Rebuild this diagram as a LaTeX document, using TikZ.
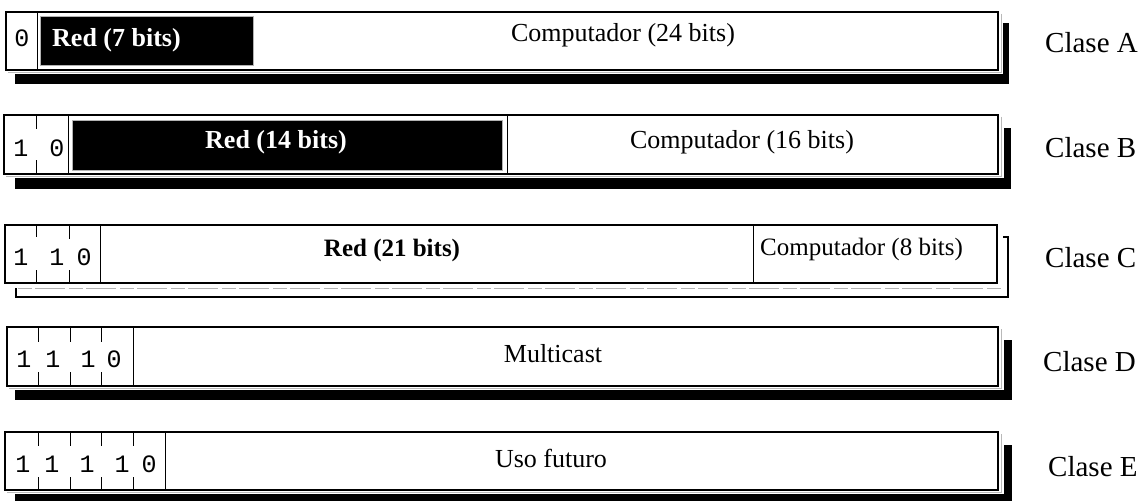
\documentclass[tikz,border=0pt]{standalone}
\usepackage{fontspec}
\setmainfont{Liberation Serif}
\newfontfamily\bitfont{Liberation Mono}
\begin{document}
\begin{tikzpicture}[x=1pt,y=-1pt,
  shadowbar/.style={fill=black},
  shadowline/.style={draw=black,line width=1.5pt},
  halo/.style={fill=white},
  edge/.style={draw=gray!55,line width=0.8pt},
  frame/.style={draw=black,line width=2.5pt},
  divider/.style={draw=black,line width=1pt},
  bittick/.style={draw=black,line width=1pt},
  darkfield/.style={fill=black,draw=gray!60,line width=0.8pt},
  lbl/.style={anchor=base,inner sep=0pt,font=\fontsize{26}{30}\selectfont},
  lblw/.style={anchor=base west,inner sep=0pt,font=\fontsize{26}{30}\selectfont},
  darklbl/.style={anchor=base,inner sep=0pt,text=white,font=\fontsize{26}{30}\selectfont\bfseries},
  bit/.style={anchor=base,inner sep=0pt,font=\fontsize{25}{28}\selectfont\bitfont},
  cls/.style={anchor=base west,inner sep=0pt,font=\fontsize{29}{34}\selectfont}]
\useasboundingbox (0,0) rectangle (1147,500);

% ---------- Clase A ----------
\fill[shadowbar] (15,23) rectangle (1009,84);
\fill[halo] (2,8) rectangle (1003,74);
\draw[edge] (1001,14) -- (1001,72.5) -- (8,72.5);
\draw[frame] (6,12) rectangle (998,70);
\draw[divider] (37,12) -- (37,70);
\draw[darkfield] (40,16) rectangle (253,65);
\node[bit] (a0) at (22,47) {0};
\node[darklbl,anchor=base west] (ared) at (52,47) {Red (7 bits)};
\node[lbl] (ahost) at (623,42) {Computador (24 bits)};
\node[cls] (acls) at (1045,53) {Clase A};

% ---------- Clase B ----------
\fill[shadowbar] (15,128) rectangle (1011,189);
\fill[halo] (0,111) rectangle (1004,178);
\draw[edge] (1001,117) -- (1001,176.5) -- (6,176.5);
\draw[frame] (4,115) rectangle (998,174);
\draw[bittick] (36,115) -- (36,129) (36,160) -- (36,174);
\draw[divider] (68,115) -- (68,174);
\draw[divider] (507,115) -- (507,174);
\draw[darkfield] (72,120) rectangle (502,170);
\node[bit] (b1) at (21,156) {1};
\node[bit] (b2) at (57,156) {0};
\node[darklbl] (bred) at (276,148) {Red (14 bits)};
\node[lbl] (bhost) at (742,148) {Computador (16 bits)};
\node[cls] (bcls) at (1045,157) {Clase B};

% ---------- Clase C ----------
\draw[shadowline] (16,237) rectangle (1008,297);
\fill[halo] (2,221) rectangle (1003,288);
\draw[gray!60,line width=0.8pt,dash pattern=on 14pt off 3pt on 30pt off 4pt]
  (18,288.5) -- (1003,288.5);
\draw[frame] (5,225) rectangle (997,283);
\draw[bittick] (36,225) -- (36,237) (36,270) -- (36,283);
\draw[bittick] (69,225) -- (69,239) (69,270) -- (69,283);
\draw[divider] (100,225) -- (100,283);
\draw[divider] (753,225) -- (753,283);
\node[bit] (c1) at (21,265) {1};
\node[bit] (c2) at (57,265) {1};
\node[bit] (c3) at (84,265) {0};
\node[lbl,font=\fontsize{25}{30}\selectfont\bfseries] (cred) at (392,256) {Red (21 bits)};
\node[lblw,font=\fontsize{25}{30}\selectfont] (chost) at (760,255) {Computador (8 bits)};
\node[cls] (ccls) at (1045,267) {Clase C};

% ---------- Clase D ----------
\fill[shadowbar] (15,340) rectangle (1012,400);
\fill[halo] (2,323) rectangle (1004,390);
\draw[edge] (1001,329) -- (1001,388.5) -- (9,388.5);
\draw[frame] (7,327) rectangle (998,386);
\foreach \t in {38,70,101}
  \draw[bittick] (\t,327) -- (\t,342) (\t,372) -- (\t,386);
\draw[divider] (133,327) -- (133,386);
\node[bit] (d1) at (24,367) {1};
\node[bit] (d2) at (53,367) {1};
\node[bit] (d3) at (88,367) {1};
\node[bit] (d4) at (114,367) {0};
\node[lbl] (dtxt) at (553,362) {Multicast};
\node[cls] (dcls) at (1043,371) {Clase D};

% ---------- Clase E ----------
\fill[shadowbar] (15,445) rectangle (1012,502);
\fill[halo] (1,428) rectangle (1004,494);
\draw[edge] (1001,434) -- (1001,492.5) -- (7,492.5);
\draw[frame] (5,432) rectangle (998,490);
\foreach \t in {38,70,101,133}
  \draw[bittick] (\t,432) -- (\t,446) (\t,477) -- (\t,490);
\draw[divider] (165,432) -- (165,490);
\node[bit] (e1) at (23,472) {1};
\node[bit] (e2) at (52,472) {1};
\node[bit] (e3) at (87,472) {1};
\node[bit] (e4) at (122,472) {1};
\node[bit] (e5) at (149,472) {0};
\node[lbl] (etxt) at (551,467) {Uso futuro};
\node[cls] (ecls) at (1048,476) {Clase E};
\end{tikzpicture}
\end{document}
